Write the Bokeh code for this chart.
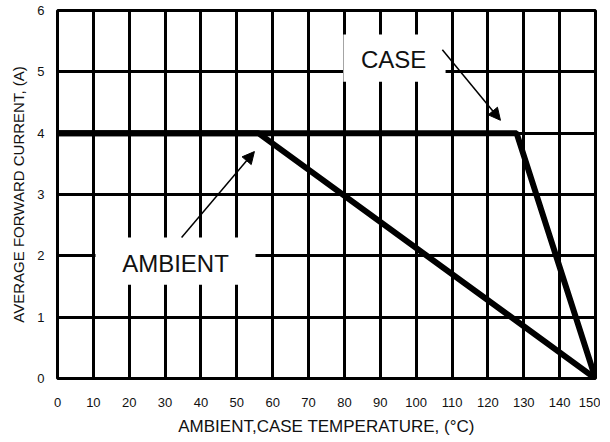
from bokeh.plotting import figure
from bokeh.models import Range1d, FixedTicker, Label, Arrow, NormalHead
from bokeh.embed import file_html
from bokeh.resources import INLINE

# Data
ambient_x = [0, 56, 150]
ambient_y = [4, 4, 0]
case_x = [0, 128, 150]
case_y = [4, 4, 0]
x_ticks = list(range(0, 151, 10))
y_ticks = [0, 1, 2, 3, 4, 5, 6]

FONT = "Liberation Sans"

p = figure(frame_width=538, frame_height=368, output_backend="svg", toolbar_location=None,
           x_range=Range1d(0, 150), y_range=Range1d(0, 6))
p.min_border_left = 57
p.min_border_right = 5
p.min_border_top = 10
p.min_border_bottom = 55
p.background_fill_color = "white"
p.border_fill_color = "white"
p.outline_line_color = "black"
p.outline_line_width = 3

p.xaxis.ticker = FixedTicker(ticks=x_ticks)
p.yaxis.ticker = FixedTicker(ticks=y_ticks)
for ax in (p.xaxis, p.yaxis):
    ax.axis_line_color = None
    ax.major_tick_line_color = None
    ax.minor_tick_line_color = None
    ax.major_tick_out = 0
    ax.major_tick_in = 0
    ax.major_label_text_font = FONT
    ax.major_label_text_font_size = "13px"
    ax.major_label_text_color = "#111111"
    ax.axis_label_text_font = FONT
    ax.axis_label_text_font_style = "normal"
    ax.axis_label_text_color = "#111111"
p.xaxis.axis_label_text_font_size = "17px"
p.yaxis.axis_label_text_font_size = "15px"
p.xaxis.major_label_standoff = 19
p.yaxis.major_label_standoff = 13
p.xaxis.axis_label = "AMBIENT,CASE TEMPERATURE, (°C)"
p.yaxis.axis_label = "AVERAGE FORWARD CURRENT, (A)"
p.xaxis.axis_label_standoff = 7
p.yaxis.axis_label_standoff = 7

for g in (p.xgrid, p.ygrid):
    g.grid_line_color = "black"
    g.grid_line_width = 3
    g.grid_line_alpha = 1.0

# curves
p.line(ambient_x, ambient_y, line_color="black", line_width=6)
p.line(case_x, case_y, line_color="black", line_width=6)

# white label boxes
p.quad(left=[79.7, 10.6], right=[108.2, 55.2], bottom=[4.84, 1.53], top=[5.61, 2.30],
       fill_color="white", line_color=None)

p.add_layout(Label(x=93.7, y=5.2, text="CASE", text_font=FONT, text_font_size="24px",
                   text_align="center", text_baseline="middle", text_color="#111111"))
p.add_layout(Label(x=32.9, y=1.875, text="AMBIENT", text_font=FONT, text_font_size="24px",
                   text_align="center", text_baseline="middle", text_color="#111111"))

p.add_layout(Arrow(x_start=107.3, y_start=5.36, x_end=123.5, y_end=4.21,
                   line_width=1.5, line_color="black",
                   end=NormalHead(size=12, fill_color="black", line_color="black")))
p.add_layout(Arrow(x_start=34.6, y_start=2.30, x_end=54.9, y_end=3.70,
                   line_width=1.5, line_color="black",
                   end=NormalHead(size=12, fill_color="black", line_color="black")))

open("out.html", "w").write(file_html(p, INLINE))
